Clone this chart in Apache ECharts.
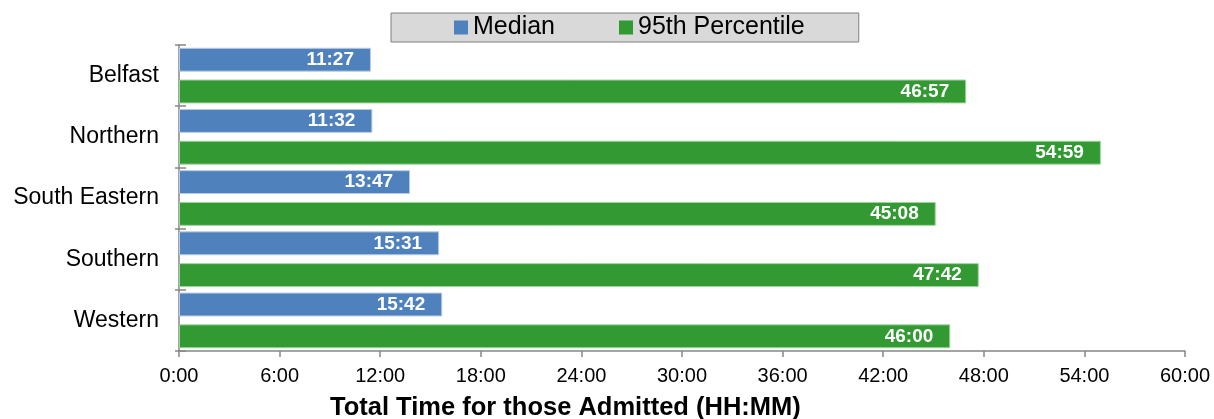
<!DOCTYPE html>
<html>
<head>
<meta charset="utf-8">
<script src="https://cdn.jsdelivr.net/npm/echarts@6/dist/echarts.min.js"></script>
<style>
  html, body { margin: 0; padding: 0; background: #fff; }
  #main { width: 1214px; height: 419px; }
</style>
</head>
<body>
<div id="main"></div>
<script>
var regions = ['Belfast', 'Northern', 'South Eastern', 'Southern', 'Western'];
var medianTimes = ['11:27', '11:32', '13:47', '15:31', '15:42'];
var p95Times = ['46:57', '54:59', '45:08', '47:42', '46:00'];
var seriesNames = ['Median', '95th Percentile'];

// "HH:MM" -> minutes
function toMinutes(s) {
    var p = s.split(':');
    return parseInt(p[0], 10) * 60 + parseInt(p[1], 10);
}
function fmt(m) {
    var h = Math.floor(m / 60), mm = Math.round(m % 60);
    return h + ':' + (mm < 10 ? '0' + mm : mm);
}

var font = '"Liberation Sans", Arial, sans-serif';
var axisGrey = '#868686';

var mychart = echarts.init(document.getElementById('main'));
mychart.setOption({
    animation: false,
    textStyle: { fontFamily: font },
    title: {
        text: 'Total Time for those Admitted (HH:MM)',
        left: 330,
        top: 395,
        padding: 0,
        textStyle: { fontFamily: font, fontSize: 25.5, fontWeight: 'bold', color: '#000' }
    },
    legend: {
        data: seriesNames,
        left: 391,
        top: 13,
        padding: [2, 54, 2, 63],
        itemWidth: 14,
        itemHeight: 14,
        itemGap: 64,
        backgroundColor: '#d9d9d9',
        borderColor: '#7f7f7f',
        borderWidth: 1,
        borderRadius: 0,
        icon: 'rect',
        itemStyle: { borderWidth: 0 },
        textStyle: { fontFamily: font, fontSize: 25, color: '#000' }
    },
    grid: { left: 179, right: 29, top: 45, bottom: 68 },
    xAxis: {
        type: 'value',
        min: 0,
        max: 3600,
        interval: 360,
        splitLine: { show: false },
        axisLine: { show: true, lineStyle: { color: axisGrey, width: 1.5 } },
        axisTick: { show: true, length: 6, lineStyle: { color: axisGrey, width: 1.5 } },
        axisLabel: {
            margin: 15,
            fontSize: 20,
            color: '#000',
            formatter: function (v) { return fmt(v); }
        }
    },
    yAxis: [{
        type: 'category',
        data: regions,
        inverse: true,
        axisLine: { show: true, lineStyle: { color: axisGrey, width: 1.5 } },
        axisTick: { show: true, length: 4, lineStyle: { color: axisGrey, width: 1.5 } },
        axisLabel: { margin: 20, fontSize: 23, color: '#000' }
    }, {
        type: 'category',
        data: regions,
        inverse: true,
        position: 'left',
        axisLine: { show: false },
        axisTick: { show: true, inside: true, length: 7, lineStyle: { color: axisGrey, width: 1.5 } },
        axisLabel: { show: false }
    }],
    series: [{
        name: seriesNames[0],
        type: 'bar',
        data: medianTimes.map(toMinutes),
        barGap: '33%',
        barCategoryGap: '9%',
        itemStyle: { color: '#4f81bd', borderColor: '#b9cde5', borderWidth: 1 },
        label: {
            show: true,
            position: 'insideRight',
            distance: 17,
            color: '#fff',
            fontWeight: 'bold',
            fontSize: 19,
            formatter: function (p) { return fmt(p.value); }
        }
    }, {
        name: seriesNames[1],
        type: 'bar',
        data: p95Times.map(toMinutes),
        itemStyle: { color: '#339933', borderColor: '#9fd49f', borderWidth: 1 },
        label: {
            show: true,
            position: 'insideRight',
            distance: 17,
            color: '#fff',
            fontWeight: 'bold',
            fontSize: 19,
            formatter: function (p) { return fmt(p.value); }
        }
    }]
});
</script>
</body>
</html>
